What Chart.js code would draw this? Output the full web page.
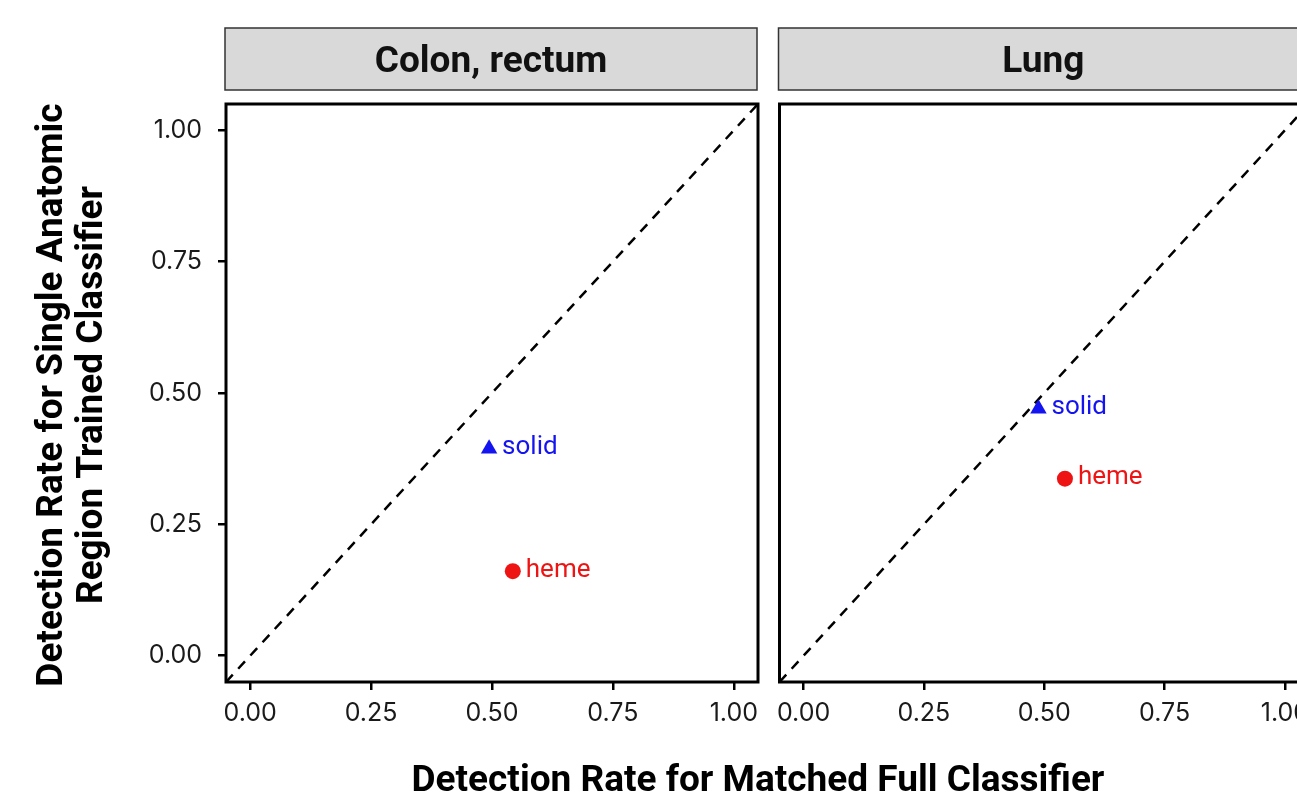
<!DOCTYPE html>
<html>
<head>
<meta charset="utf-8">
<script src="https://cdn.jsdelivr.net/npm/chart.js@4.4.0/dist/chart.umd.min.js"></script>
<style>
  html, body { margin: 0; padding: 0; background: #fff; overflow: hidden; }
  #wrap { position: relative; width: 1297px; height: 795px; overflow: hidden; background: #fff; }
  canvas { position: absolute; top: 0; }
  #xtitle { position: absolute; left: 0; width: 1516px; top: 757px; text-align: center;
            font: bold 37px Roboto; line-height: 43px; color: #000; white-space: nowrap; }
</style>
</head>
<body>
<div id="wrap">
  <canvas id="panelA" width="770" height="795" style="left:0"></canvas>
  <canvas id="panelB" width="560" height="795" style="left:770px"></canvas>
  <div id="xtitle">Detection Rate for Matched Full Classifier</div>
</div>
<script>
// data
const panelNames = ['Colon, rectum', 'Lung'];
const groupNames = ['solid', 'heme'];
const solidFull = [0.494, 0.488];
const solidSingle = [0.394, 0.470];
const hemeFull = [0.543, 0.543];
const hemeSingle = [0.161, 0.337];
const tickValues = [0, 0.25, 0.5, 0.75, 1];
const axisRange = [-0.05, 1.05];
const yTitleLines = ['Detection Rate for Single Anatomic', 'Region Trained Classifier'];

const groupColors = ['#1414f0', '#ee1414'];
const tickFont = { family: 'Inter', size: 25 };

// strip, panel border, point labels and y title
const panelDecor = {
  id: 'panelDecor',
  beforeDraw(chart, args, opts) {
    const { ctx, chartArea: a } = chart;
    ctx.save();
    ctx.fillStyle = '#d9d9d9';
    ctx.fillRect(a.left - 1, 28, a.width, 62);
    ctx.strokeStyle = '#333';
    ctx.lineWidth = 1.5;
    ctx.strokeRect(a.left - 1, 28, a.width, 62);
    ctx.fillStyle = '#111';
    ctx.font = 'bold 37px Roboto';
    ctx.textAlign = 'center';
    ctx.textBaseline = 'alphabetic';
    ctx.fillText(opts.title, (a.left + a.right) / 2 - 1, 72);
    ctx.restore();
  },
  afterDraw(chart, args, opts) {
    const { ctx, chartArea: a } = chart;
    ctx.save();
    ctx.strokeStyle = '#000';
    ctx.lineWidth = 3;
    ctx.strokeRect(a.left, a.top, a.width, a.height);

    ctx.font = '26px Roboto';
    ctx.textAlign = 'left';
    ctx.textBaseline = 'middle';
    chart.data.datasets.forEach((ds, i) => {
      if (!ds.label) return;
      const pt = chart.getDatasetMeta(i).data[0];
      ctx.fillStyle = ds.backgroundColor;
      ctx.fillText(ds.label, pt.x + 13, pt.y - 1);
    });

    if (opts.yTitle) {
      ctx.fillStyle = '#000';
      ctx.font = 'bold 37px Roboto';
      ctx.textAlign = 'center';
      ctx.textBaseline = 'middle';
      ctx.translate(0, 395);
      ctx.rotate(-Math.PI / 2);
      opts.yTitle.forEach((line, k) => ctx.fillText(line, 0, 53 + k * 40));
    }
    ctx.restore();
  }
};

function axis(display, isX) {
  return {
    type: 'linear',
    display,
    min: axisRange[0],
    max: axisRange[1],
    afterBuildTicks: s => { s.ticks = tickValues.map(v => ({ value: v })); },
    afterFit: s => {
      if (isX) { s.height = 113; s.paddingLeft = 0; s.paddingRight = 0; }
      else { s.width = display ? 226 : 0; s.paddingTop = 0; s.paddingBottom = 0; }
    },
    grid: { drawOnChartArea: false, color: '#000', lineWidth: 2.5, tickLength: 8 },
    border: { display: false },
    ticks: {
      color: '#1a1a1a',
      font: tickFont,
      padding: isX ? 8 : 16,
      maxRotation: 0,
      autoSkip: false,
      callback: v => Number(v).toFixed(2)
    }
  };
}

function makePanel(id, i, showY, padding) {
  new Chart(document.getElementById(id), {
    type: 'scatter',
    data: {
      datasets: [
        {
          type: 'line',
          data: axisRange.map(v => ({ x: v, y: v })),
          borderColor: '#000',
          borderWidth: 2.5,
          borderDash: [10, 8],
          pointRadius: 0,
          order: 2
        },
        {
          label: groupNames[0],
          data: [{ x: solidFull[i], y: solidSingle[i] }],
          pointStyle: 'triangle',
          pointRadius: 9.5,
          backgroundColor: groupColors[0],
          borderWidth: 0,
          order: 1
        },
        {
          label: groupNames[1],
          data: [{ x: hemeFull[i], y: hemeSingle[i] }],
          pointStyle: 'circle',
          pointRadius: 8,
          backgroundColor: groupColors[1],
          borderWidth: 0,
          order: 1
        }
      ]
    },
    options: {
      responsive: false,
      animation: false,
      layout: { padding },
      plugins: {
        legend: { display: false },
        tooltip: { enabled: false },
        panelDecor: { title: panelNames[i], yTitle: showY ? yTitleLines : null }
      },
      scales: {
        x: axis(true, true),
        y: axis(showY, false)
      }
    },
    plugins: [panelDecor]
  });
}

makePanel('panelA', 0, true, { top: 104, right: 12, left: 0, bottom: 0 });
makePanel('panelB', 1, false, { top: 104, right: 21, left: 7, bottom: 0 });
</script>
</body>
</html>
